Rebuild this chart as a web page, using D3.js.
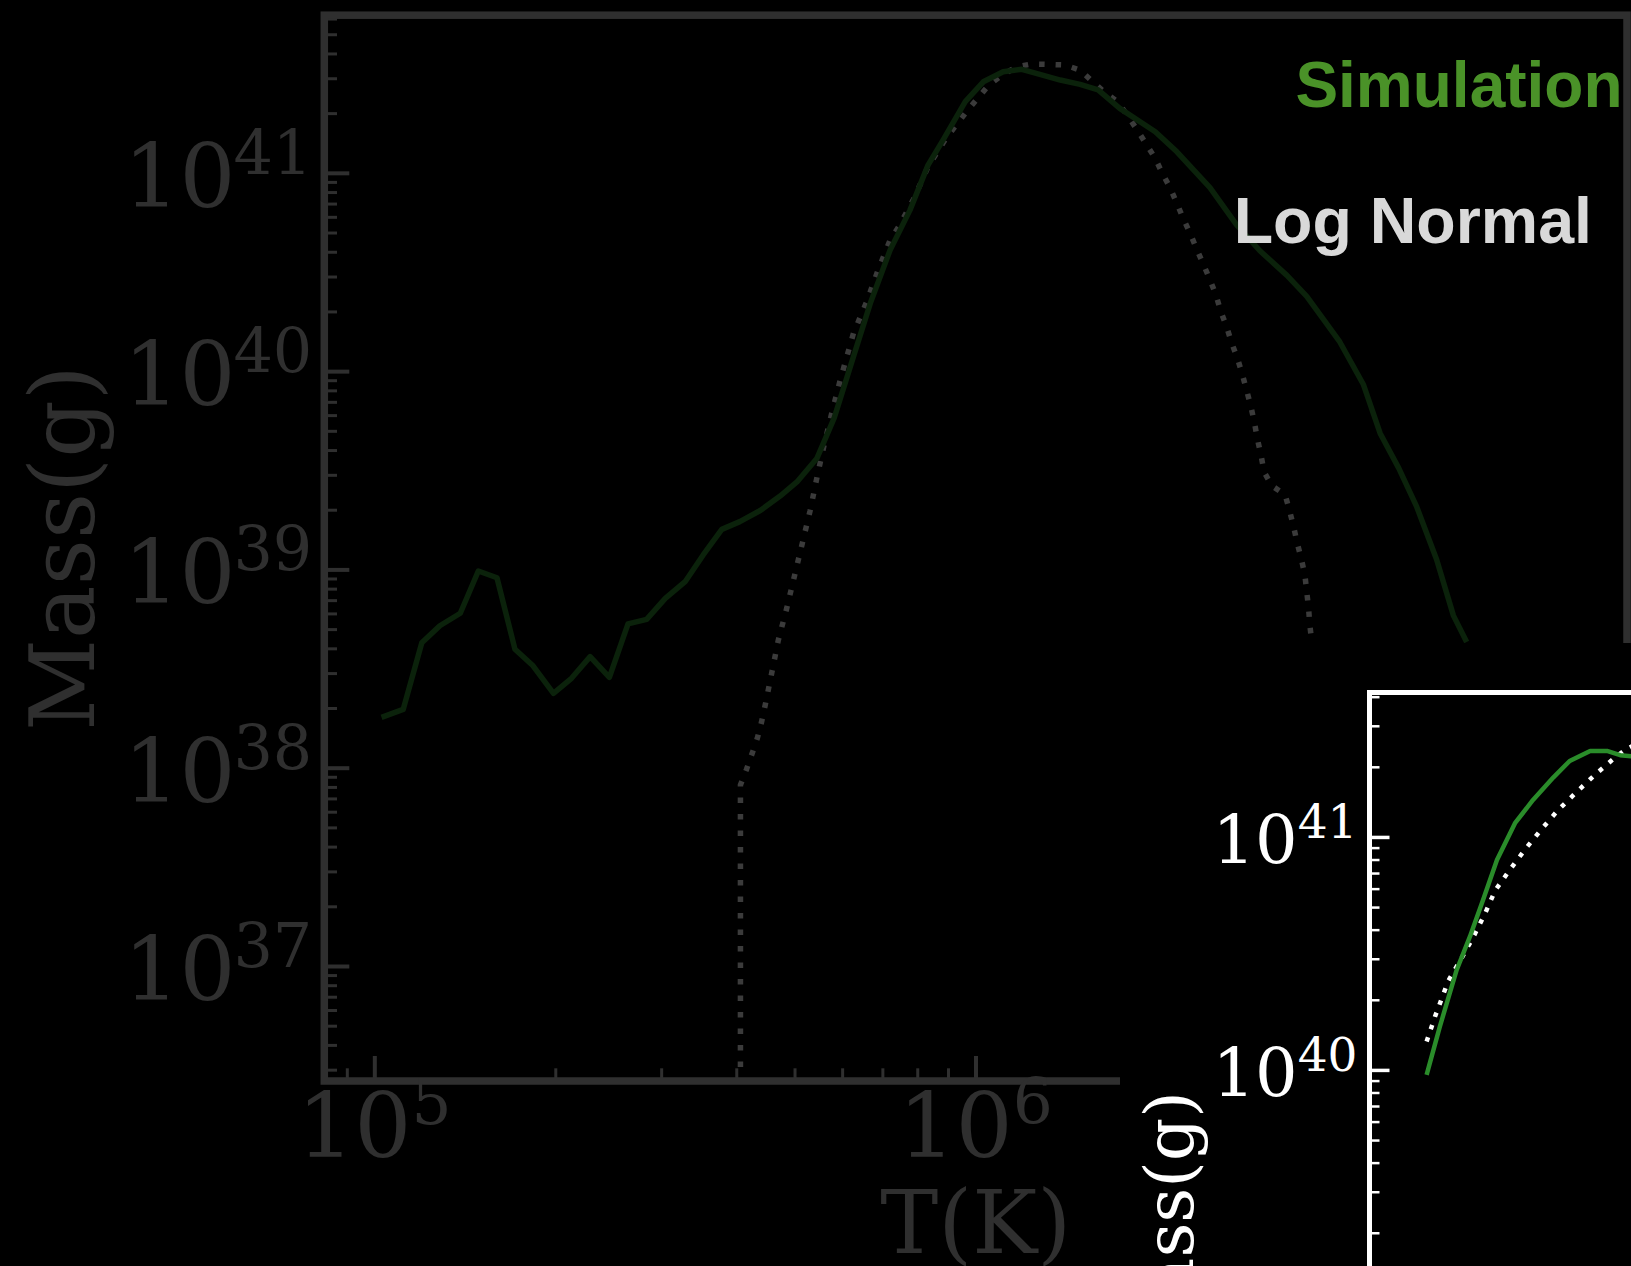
<!DOCTYPE html>
<html><head><meta charset="utf-8">
<script src="https://cdn.jsdelivr.net/npm/d3@7"></script>
<style>html,body{margin:0;padding:0;background:#000;overflow:hidden}</style>
</head><body>
<script>
// ---------------- DATA (log10 values) ----------------
// Main panel: Simulation (log10 T [K], log10 Mass [g])
const simLogT = [5.012,5.048,5.079,5.109,5.143,5.173,5.204,5.234,5.264,5.298,5.328,5.359,5.391,5.422,5.453,5.484,5.517,5.547,5.578,5.608,5.642,5.675,5.703,5.736,5.765,5.797,5.825,5.858,5.891,5.921,5.946,5.983,6.013,6.046,6.077,6.107,6.141,6.174,6.204,6.240,6.299,6.335,6.390,6.434,6.473,6.518,6.551,6.606,6.645,6.673,6.704,6.734,6.767,6.795,6.817];
const simLogM = [38.254,38.294,38.630,38.716,38.779,38.992,38.958,38.597,38.514,38.375,38.451,38.560,38.456,38.725,38.748,38.854,38.938,39.073,39.202,39.241,39.297,39.370,39.441,39.559,39.764,40.073,40.342,40.611,40.812,41.039,41.165,41.359,41.459,41.510,41.522,41.497,41.468,41.446,41.418,41.325,41.207,41.106,40.925,40.739,40.607,40.483,40.377,40.147,39.934,39.687,39.511,39.315,39.050,38.767,38.634];
// Main panel: Log Normal fit (first point is far below the axis)
const lnLogT = [5.609,5.609,5.619,5.628,5.637,5.644,5.650,5.661,5.672,5.686,5.699,5.712,5.725,5.736,5.748,5.761,5.775,5.797,5.819,5.838,5.858,5.874,5.899,5.921,5.952,5.985,6.021,6.044,6.069,6.093,6.121,6.149,6.174,6.195,6.215,6.238,6.254,6.269,6.285,6.299,6.311,6.324,6.335,6.346,6.357,6.368,6.379,6.390,6.400,6.408,6.418,6.426,6.436,6.444,6.451,6.458,6.464,6.469,6.475,6.480,6.493,6.515,6.522,6.529,6.535,6.542,6.548,6.551,6.554,6.556,6.559];
const lnLogM = [30.0,37.913,37.991,38.068,38.148,38.229,38.313,38.477,38.643,38.804,38.969,39.133,39.297,39.460,39.625,39.789,39.955,40.191,40.350,40.510,40.661,40.737,40.879,41.031,41.179,41.308,41.439,41.493,41.535,41.549,41.547,41.544,41.518,41.459,41.406,41.354,41.283,41.216,41.140,41.073,40.996,40.923,40.846,40.767,40.695,40.615,40.539,40.461,40.384,40.302,40.221,40.143,40.062,39.982,39.903,39.823,39.740,39.657,39.575,39.492,39.422,39.377,39.301,39.218,39.135,39.053,38.970,38.887,38.806,38.723,38.644];
// Inset panel
const insetSimLogT = [5.795,5.817,5.845,5.867,5.889,5.912,5.942,5.972,6.006,6.033,6.067,6.095,6.117,6.143];
const insetSimLogM = [39.979,40.186,40.429,40.572,40.730,40.901,41.059,41.159,41.256,41.326,41.369,41.369,41.351,41.345];
const insetLnLogT = [5.795,5.809,5.831,5.853,5.873,5.892,5.909,5.934,5.959,5.986,6.014,6.045,6.075,6.108,6.125,6.150];
const insetLnLogM = [40.122,40.229,40.382,40.479,40.572,40.670,40.770,40.861,40.947,41.033,41.116,41.194,41.267,41.340,41.373,41.408];
// Tick labels (exponents of 10)
const mainYTickExp = [37,38,39,40,41];
const mainXTickExp = [5,6];
const insetYTickExp = [40,41];
const legendLabels = ["Simulation","Log Normal"];
const xLabelText = "T(K)";
const yLabelText = "Mass(g)";

// ---------------- LAYOUT ----------------
const W = 1631, H = 1266;
const dim = "#2f2f2f";
const serif = "DejaVu Serif";
const svg = d3.select("body").append("svg").attr("width", W).attr("height", H);
svg.append("rect").attr("width", W).attr("height", H).attr("fill", "#000");
const defs = svg.append("defs");

// main scales
const M = {left: 324.3, right: 1627, top: 15.2, bottom: 1081};
const x = d3.scaleLog().domain([10 ** 4.9168, 10 ** 7.0837]).range([M.left, M.right]);
const y = d3.scaleLog().domain([10 ** 36.42, 10 ** 41.795]).range([M.bottom, M.top]);

defs.append("clipPath").attr("id", "clipMain").append("rect")
  .attr("x", M.left).attr("y", M.top).attr("width", M.right - M.left).attr("height", M.bottom - M.top);

const isMajor = v => Math.abs(Math.log10(v) - Math.round(Math.log10(v))) < 1e-6;

// main lines
const line = d3.line().x(d => x(d[0])).y(d => y(d[1]));
const simData = simLogT.map((t, i) => [10 ** t, 10 ** simLogM[i]]);
const lnData = lnLogT.map((t, i) => [10 ** t, 10 ** lnLogM[i]]);
const gm = svg.append("g").attr("clip-path", "url(#clipMain)");
gm.append("path").datum(lnData).attr("d", line).attr("fill", "none")
  .attr("stroke", "#3b3b3b").attr("stroke-width", 5.5).attr("stroke-dasharray", "5.5,11");
gm.append("path").datum(simData).attr("d", line).attr("fill", "none")
  .attr("stroke", "#0b220b").attr("stroke-width", 5.5).attr("stroke-linejoin", "round");

// main axes
function styleAxis(g, color, w) {
  g.select(".domain").remove();
  g.selectAll(".tick line").attr("stroke", color).attr("stroke-width", w);
  g.selectAll(".tick text").remove();
}
const yMajor = mainYTickExp.map(e => 10 ** e);
const yMinor = y.ticks().filter(v => !isMajor(v));
svg.append("g").attr("transform", `translate(${M.left},0)`)
  .call(d3.axisLeft(y).tickValues(yMinor).tickSize(-12.7).tickFormat(""))
  .call(g => styleAxis(g, dim, 3));
svg.append("g").attr("transform", `translate(${M.left},0)`)
  .call(d3.axisLeft(y).tickValues(yMajor).tickSize(-25).tickFormat(""))
  .call(g => styleAxis(g, dim, 4));
const xMajor = [5, 6, 7].map(e => 10 ** e);
const xMinor = x.ticks().filter(v => !isMajor(v));
svg.append("g").attr("transform", `translate(0,${M.bottom})`)
  .call(d3.axisBottom(x).tickValues(xMinor).tickSize(-12.7).tickFormat(""))
  .call(g => styleAxis(g, dim, 3));
svg.append("g").attr("transform", `translate(0,${M.bottom})`)
  .call(d3.axisBottom(x).tickValues(xMajor).tickSize(-25).tickFormat(""))
  .call(g => styleAxis(g, dim, 4));

// main frame
svg.append("rect").attr("x", M.left).attr("y", M.top)
  .attr("width", M.right - M.left).attr("height", M.bottom - M.top)
  .attr("fill", "none").attr("stroke", dim).attr("stroke-width", 7.5);

// main tick labels
mainYTickExp.forEach(e => {
  const t = svg.append("text").attr("x", M.left - 12).attr("y", y(10 ** e) + 34)
    .attr("text-anchor", "end").attr("font-family", serif).attr("font-size", 88).attr("fill", dim);
  t.append("tspan").text("10");
  t.append("tspan").attr("dy", -33).attr("dx", -2).attr("font-size", 62).text(e);
});
mainXTickExp.forEach(e => {
  const t = svg.append("text").attr("x", x(10 ** e)).attr("y", 1156.7)
    .attr("text-anchor", "middle").attr("font-family", serif).attr("font-size", 90).attr("fill", dim);
  t.append("tspan").text("10");
  t.append("tspan").attr("dy", -33).attr("font-size", 63).text(e);
});
svg.append("text").attr("x", (M.left + M.right) / 2).attr("y", 1252.7)
  .attr("text-anchor", "middle").attr("font-family", serif).attr("font-size", 87).attr("fill", dim).text(xLabelText);
svg.append("text").attr("transform", `translate(93.6,${(M.top + M.bottom) / 2}) rotate(-90)`)
  .attr("text-anchor", "middle").attr("font-family", serif).attr("font-size", 90).attr("fill", dim).text(yLabelText);

// legend texts
svg.append("text").attr("x", 1622.5).attr("y", 106.7).attr("text-anchor", "end")
  .attr("font-family", "Liberation Sans, Arial, sans-serif").attr("font-weight", "bold").attr("font-size", 64)
  .attr("fill", "#4a9228").text(legendLabels[0]);
svg.append("text").attr("x", 1592).attr("y", 243.3).attr("text-anchor", "end")
  .attr("font-family", "Liberation Sans, Arial, sans-serif").attr("font-weight", "bold").attr("font-size", 64.5)
  .attr("fill", "#d9d9d9").text(legendLabels[1]);

// ---------------- INSET ----------------
svg.append("rect").attr("x", 1120).attr("y", 643).attr("width", W - 1120).attr("height", H - 643).attr("fill", "#000");

const I = {left: 1369.5, right: 2391.5, top: 692.5, bottom: 1766.5};
const xi = d3.scaleLog().domain([10 ** 5.7, 10 ** 7.4]).range([I.left, I.right]);
const yi = d3.scaleLog().domain([10 ** 37.01, 10 ** 41.62]).range([I.bottom, I.top]);
defs.append("clipPath").attr("id", "clipInset").append("rect")
  .attr("x", I.left).attr("y", I.top).attr("width", I.right - I.left).attr("height", I.bottom - I.top);

const lineI = d3.line().x(d => xi(d[0])).y(d => yi(d[1]));
const insetSim = insetSimLogT.map((t, i) => [10 ** t, 10 ** insetSimLogM[i]]);
const insetLn = insetLnLogT.map((t, i) => [10 ** t, 10 ** insetLnLogM[i]]);
const gi = svg.append("g").attr("clip-path", "url(#clipInset)");
gi.append("path").datum(insetLn).attr("d", lineI).attr("fill", "none")
  .attr("stroke", "#ffffff").attr("stroke-width", 4.5).attr("stroke-dasharray", "4.5,8.5");
gi.append("path").datum(insetSim).attr("d", lineI).attr("fill", "none")
  .attr("stroke", "#2a8c2a").attr("stroke-width", 4.5).attr("stroke-linejoin", "round");

const yiMajor = [39, 40, 41].map(e => 10 ** e);
const yiMinor = yi.ticks().filter(v => !isMajor(v));
svg.append("g").attr("transform", `translate(${I.left},0)`)
  .call(d3.axisLeft(yi).tickValues(yiMinor).tickSize(-10).tickFormat(""))
  .call(g => styleAxis(g, "#ffffff", 2.5));
svg.append("g").attr("transform", `translate(${I.left},0)`)
  .call(d3.axisLeft(yi).tickValues(yiMajor).tickSize(-20).tickFormat(""))
  .call(g => styleAxis(g, "#ffffff", 3.5));
svg.append("rect").attr("x", I.left).attr("y", I.top)
  .attr("width", I.right - I.left).attr("height", I.bottom - I.top)
  .attr("fill", "none").attr("stroke", "#ffffff").attr("stroke-width", 5);

insetYTickExp.forEach(e => {
  const t = svg.append("text").attr("x", I.left - 12).attr("y", yi(10 ** e) + 26.4)
    .attr("text-anchor", "end").attr("font-family", serif).attr("font-size", 67).attr("fill", "#ffffff");
  t.append("tspan").text("10");
  t.append("tspan").attr("dy", -25).attr("font-size", 47).text(e);
});
svg.append("text").attr("transform", `translate(1193,${(I.top + I.bottom) / 2}) rotate(-90)`)
  .attr("text-anchor", "middle").attr("font-family", serif).attr("font-size", 68).attr("fill", "#ffffff").text(yLabelText);
</script>
</body></html>
